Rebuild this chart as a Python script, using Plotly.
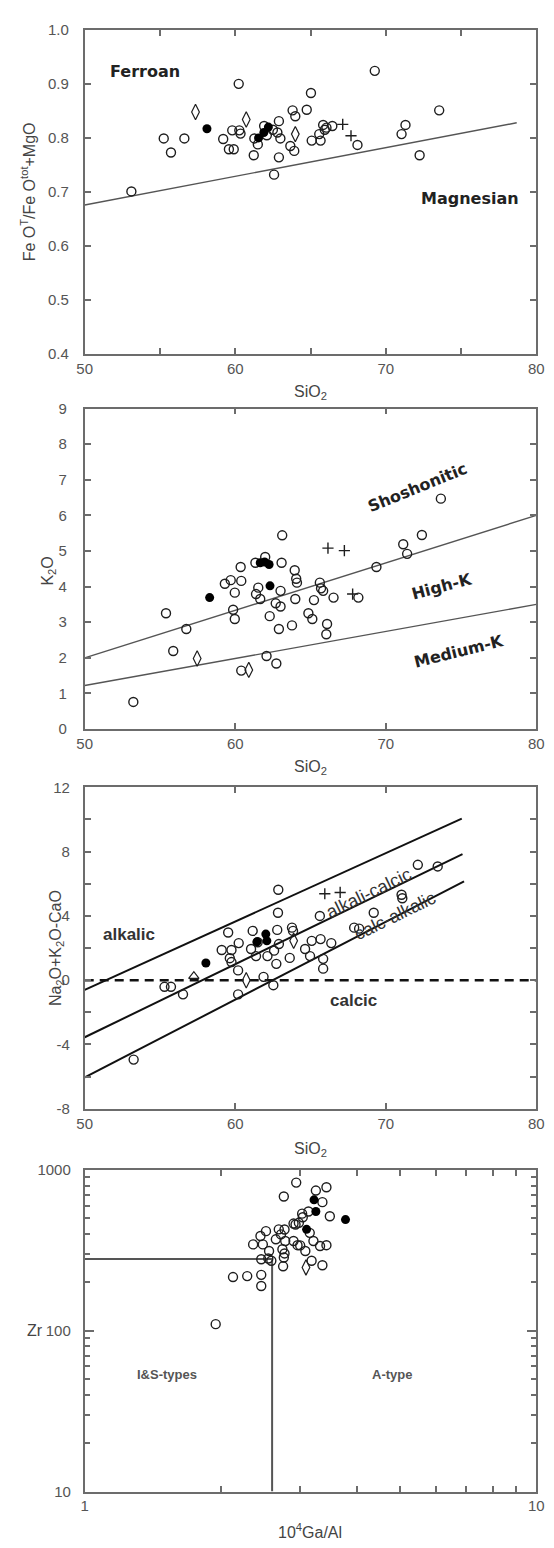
import math
import plotly.graph_objects as go

# ---------------- data ----------------
# Panel 1: FeOT/(FeOT+MgO) vs SiO2
p1_open_x = [53.1, 55.25, 55.73, 56.62, 59.2, 59.58, 59.9, 59.8, 60.23, 60.27, 60.35, 61.23, 61.27, 61.5,
             61.92, 62.1, 62.5, 62.58, 62.9, 62.8, 63.0, 62.9, 63.66, 63.81, 63.99, 63.92, 64.75, 65.03,
             65.08, 65.67, 65.58, 65.84, 65.95, 66.06, 66.45, 68.12, 69.27, 71.05, 71.31, 72.25, 73.55]
p1_open_y = [0.701, 0.799, 0.773, 0.799, 0.798, 0.779, 0.779, 0.814, 0.900, 0.814, 0.808, 0.768, 0.799, 0.788,
             0.822, 0.805, 0.815, 0.732, 0.831, 0.810, 0.799, 0.764, 0.785, 0.851, 0.840, 0.776, 0.852, 0.883,
             0.795, 0.795, 0.807, 0.824, 0.815, 0.819, 0.822, 0.787, 0.924, 0.807, 0.824, 0.768, 0.851]
p1_fill_x = [58.12, 61.55, 61.9, 62.2]
p1_fill_y = [0.817, 0.800, 0.810, 0.820]
p1_dia_x = [57.36, 60.73, 63.99]
p1_dia_y = [0.848, 0.834, 0.807]
p1_plus_x = [67.14, 67.69]
p1_plus_y = [0.825, 0.804]
p1_line_x = [50, 78.7]
p1_line_y = [0.676, 0.828]

# Panel 2: K2O vs SiO2
p2_open_x = [53.23, 55.4, 55.88, 56.75, 59.31, 59.7, 60.4, 60.36, 59.97, 59.86, 59.97, 60.4, 61.34, 61.99,
             61.53, 61.38, 61.66, 62.08, 62.29, 62.73, 62.69, 63.01, 63.01, 63.08, 63.12, 62.9, 63.77, 63.95,
             64.05, 64.1, 63.99, 64.86, 65.12, 65.23, 65.62, 65.84, 65.7, 66.1, 66.05, 66.53, 68.18, 69.38,
             71.16, 71.42, 72.4, 73.66]
p2_open_y = [0.76, 3.25, 2.19, 2.81, 4.08, 4.18, 4.16, 4.55, 3.83, 3.35, 3.09, 1.64, 4.67, 4.83,
             3.97, 3.79, 3.65, 2.05, 3.17, 1.84, 3.53, 3.44, 3.88, 4.67, 5.44, 2.81, 2.91, 4.46,
             4.22, 4.11, 3.65, 3.25, 3.09, 3.62, 4.11, 3.88, 3.95, 2.95, 2.66, 3.69, 3.69, 4.55,
             5.19, 4.92, 5.45, 6.47]
p2_fill_x = [58.3, 61.66, 61.95, 62.25, 62.31]
p2_fill_y = [3.69, 4.67, 4.69, 4.62, 4.02]
p2_dia_x = [57.47, 60.9]
p2_dia_y = [1.98, 1.66]
p2_plus_x = [66.16, 67.25, 67.8]
p2_plus_y = [5.08, 5.01, 3.79]
p2_upper_x = [50, 80]
p2_upper_y = [2.0, 6.0]
p2_lower_x = [50, 80]
p2_lower_y = [1.22, 3.5]

# Panel 3: Na2O+K2O-CaO vs SiO2
p3_open_x = [53.25, 55.3, 55.73, 56.53, 59.53, 59.1, 59.75, 60.23, 59.64, 59.75, 60.19, 60.19, 61.16, 61.05,
             61.38, 61.49, 61.88, 62.14, 62.58, 62.73, 62.79, 62.9, 62.84, 62.86, 62.53, 63.62, 63.77, 63.84,
             64.64, 64.97, 65.08, 65.67, 65.62, 65.84, 65.84, 66.38, 67.9, 68.23, 69.2, 71.05, 71.1, 72.13, 73.45]
p3_open_y = [-4.94, -0.41, -0.41, -0.88, 2.97, 1.88, 1.88, 2.31, 1.37, 1.13, 0.61, -0.88, 3.07, 1.94,
             1.5, 2.36, 0.21, 1.5, 1.84, 1.02, 3.13, 2.25, 4.2, 5.63, -0.31, 1.39, 3.27, 3.07,
             1.94, 1.5, 2.45, 2.56, 4.0, 1.33, 0.72, 2.31, 3.27, 3.21, 4.2, 5.32, 5.1, 7.18, 7.08]
p3_fill_x = [58.05, 61.45, 62.03, 62.1]
p3_fill_y = [1.07, 2.39, 2.87, 2.45]
p3_tri_x = [57.25]
p3_tri_y = [0.25]
p3_dia_x = [60.73, 63.88]
p3_dia_y = [0.0, 2.45]
p3_plus_x = [65.95, 66.97]
p3_plus_y = [5.38, 5.46]
p3_l1_x = [50, 75.05]
p3_l1_y = [-0.6, 10.05]
p3_l2_x = [50, 75.1]
p3_l2_y = [-3.55, 7.85]
p3_l3_x = [50, 75.2]
p3_l3_y = [-6.05, 6.15]
p3_dash_x = [50, 80]
p3_dash_y = [0, 0]

# Panel 4: Zr vs 10^4 Ga/Al
p4_open_x = [1.95, 2.13, 2.29, 2.46, 2.46, 2.94, 2.76, 3.25, 3.43, 3.36, 3.49, 3.03, 3.13, 2.90, 2.98,
             2.52, 2.45, 2.36, 2.48, 2.56, 2.46, 2.55, 2.69, 2.65, 2.72, 2.78, 2.74, 2.76, 2.75,
             2.90, 2.96, 3.08, 3.15, 3.21, 3.32, 3.43, 3.18, 3.36, 2.77, 2.93, 3.04, 2.59, 2.77, 3.0]
p4_open_y = [110, 216, 219, 223, 190, 836, 685, 746, 782, 632, 516, 536, 553, 465, 470,
             417, 389, 345, 345, 314, 279, 282, 428, 371, 398, 362, 322, 286, 252,
             362, 341, 314, 407, 362, 337, 341, 273, 256, 427, 459, 509, 273, 303, 340]
p4_fill_x = [3.22, 3.25, 3.10, 3.78]
p4_fill_y = [653, 553, 428, 492]
p4_dia_x = [3.09]
p4_dia_y = [248]
p4_h_x = [1, 2.6]
p4_h_y = [280, 280]
p4_v_x = [2.6, 2.6]
p4_v_y = [10, 280]

sio2_ticks = [50, 55, 60, 65, 70, 75, 80]
sio2_text = ["50", "", "60", "", "70", "", "80"]

# ---------------- layout helpers ----------------
W, H = 554, 1548
XL, XR = 79, 544


def xdom():
    return [XL / W, XR / W]


def ydom(top, bottom):
    return [1 - bottom / H, 1 - top / H]


def px(x):
    return x / W


def py(y):
    return 1 - y / H


AX = "#6c6c6c"
MK = "#1e1e1e"
tickfont = dict(family="Liberation Sans, Arial, sans-serif", size=15, color="#555")

fig = go.Figure()


def add_markers(xs, ys, xa, ya, kind):
    if kind == "open":
        m = dict(symbol="circle-open", size=9, color=MK, line=dict(width=1.4, color=MK))
    elif kind == "fill":
        m = dict(symbol="circle", size=9, color="#000", line=dict(width=0))
    elif kind == "dia":
        m = dict(symbol="diamond-tall-open", size=11, color=MK, line=dict(width=1.2, color=MK))
    elif kind == "tri":
        m = dict(symbol="triangle-up-open", size=9, color=MK, line=dict(width=1.2, color=MK))
    else:
        m = dict(symbol="cross-thin-open", size=8, color=MK, line=dict(width=1.4, color=MK))
    fig.add_trace(go.Scatter(x=xs, y=ys, mode="markers", marker=m, xaxis=xa, yaxis=ya,
                             showlegend=False, hoverinfo="skip"))


def add_line(xs, ys, xa, ya, color="#555", width=1.4, dash="solid"):
    fig.add_trace(go.Scatter(x=xs, y=ys, mode="lines", line=dict(color=color, width=width, dash=dash),
                             xaxis=xa, yaxis=ya, showlegend=False, hoverinfo="skip"))


# Panel 1
add_line(p1_line_x, p1_line_y, "x", "y")
add_markers(p1_open_x, p1_open_y, "x", "y", "open")
add_markers(p1_dia_x, p1_dia_y, "x", "y", "dia")
add_markers(p1_plus_x, p1_plus_y, "x", "y", "plus")
add_markers(p1_fill_x, p1_fill_y, "x", "y", "fill")

# Panel 2
add_line(p2_upper_x, p2_upper_y, "x2", "y2")
add_line(p2_lower_x, p2_lower_y, "x2", "y2")
add_markers(p2_open_x, p2_open_y, "x2", "y2", "open")
add_markers(p2_dia_x, p2_dia_y, "x2", "y2", "dia")
add_markers(p2_plus_x, p2_plus_y, "x2", "y2", "plus")
add_markers(p2_fill_x, p2_fill_y, "x2", "y2", "fill")

# Panel 3
add_line(p3_l1_x, p3_l1_y, "x3", "y3", color="#111", width=2)
add_line(p3_l2_x, p3_l2_y, "x3", "y3", color="#111", width=2)
add_line(p3_l3_x, p3_l3_y, "x3", "y3", color="#111", width=2)
add_line(p3_dash_x, p3_dash_y, "x3", "y3", color="#111", width=2.6, dash="9px,6px")
add_markers(p3_open_x, p3_open_y, "x3", "y3", "open")
add_markers(p3_tri_x, p3_tri_y, "x3", "y3", "tri")
add_markers(p3_dia_x, p3_dia_y, "x3", "y3", "dia")
add_markers(p3_plus_x, p3_plus_y, "x3", "y3", "plus")
add_markers(p3_fill_x, p3_fill_y, "x3", "y3", "fill")

# Panel 4
add_line(p4_h_x, p4_h_y, "x4", "y4", color="#555", width=2)
add_line(p4_v_x, p4_v_y, "x4", "y4", color="#555", width=2)
add_markers(p4_open_x, p4_open_y, "x4", "y4", "open")
add_markers(p4_dia_x, p4_dia_y, "x4", "y4", "dia")
add_markers(p4_fill_x, p4_fill_y, "x4", "y4", "fill")

base = dict(showline=True, mirror="allticks", linecolor=AX, linewidth=1.8, ticks="inside",
            ticklen=6, tickwidth=1.5, tickcolor=AX, showgrid=False, zeroline=False,
            tickfont=tickfont, fixedrange=True)

P1 = (21, 349)
P2 = (404, 728)
P3 = (787, 1112)
P4 = (1174, 1499)

fig.update_layout(
    width=W, height=H, margin=dict(l=0, r=0, t=0, b=0),
    paper_bgcolor="white", plot_bgcolor="white", showlegend=False,
    xaxis=dict(base, domain=xdom(), range=[50, 80], tickmode="array", tickvals=sio2_ticks,
               ticktext=sio2_text, anchor="y", ticklabelstandoff=0),
    yaxis=dict(base, domain=ydom(*P1), range=[0.4, 1.0], tickmode="array",
               tickvals=[0.4, 0.5, 0.6, 0.7, 0.8, 0.9, 1.0],
               ticktext=["0.4", "0.5", "0.6", "0.7", "0.8", "0.9", "1.0"], anchor="x",
               ticklabelstandoff=11),
    xaxis2=dict(base, domain=xdom(), range=[50, 80], tickmode="array", tickvals=[50, 60, 70, 80],
                ticktext=["50", "60", "70", "80"], anchor="y2", ticklabelstandoff=0),
    yaxis2=dict(base, domain=ydom(*P2), range=[0, 9], tickmode="array", tickvals=list(range(0, 10)),
                ticktext=[str(v) for v in range(0, 10)], anchor="x2", ticklabelstandoff=13),
    xaxis3=dict(base, domain=xdom(), range=[50, 80], tickmode="array", tickvals=[50, 60, 70, 80],
                ticktext=["50", "60", "70", "80"], anchor="y3", ticklabelstandoff=0),
    yaxis3=dict(base, domain=ydom(*P3), range=[-8, 12], tickmode="array",
                tickvals=[-8, -6, -4, -2, 0, 2, 4, 6, 8, 10, 12],
                ticktext=["-8", "", "-4", "", "0", "", "4", "", "8", "", "12"], anchor="x3",
                ticklabelstandoff=10),
    xaxis4=dict(base, domain=xdom(), type="log", range=[0, 1], tickmode="array",
                tickvals=[1, 2, 3, 4, 5, 6, 7, 8, 9, 10],
                ticktext=["1", "", "", "", "", "", "", "", "", "10"], anchor="y4", ticklabelstandoff=0),
    yaxis4=dict(base, domain=ydom(*P4), type="log", range=[1, 3], tickmode="array",
                tickvals=[10, 100, 1000], ticktext=["10", "100", "1000"], ticklen=9, anchor="x4",
                ticklabelstandoff=9,
                minor=dict(tickmode="array",
                           tickvals=[20, 30, 40, 50, 60, 70, 80, 90, 200, 300, 400, 500, 600, 700, 800, 900],
                           ticks="inside", ticklen=5, tickcolor=AX, tickwidth=1.5, showgrid=False)),
)

ann = []
tfont = dict(family="Liberation Sans, Arial, sans-serif", size=16, color="#444")


def title(text, x, y, angle=0):
    ann.append(dict(text=text, x=px(x), y=py(y), xref="paper", yref="paper", showarrow=False,
                    textangle=angle, font=tfont, xanchor="center", yanchor="middle"))


title("SiO<sub>2</sub>", 311, 388)
title("SiO<sub>2</sub>", 311, 767)
title("SiO<sub>2</sub>", 311, 1153)
title("10<sup>4</sup>Ga/Al", 311, 1539)
title("Fe O<sup>T</sup>/Fe O<sup>tot</sup>+MgO", 21, 185, -90)
title("K<sub>2</sub>O", 42, 568, -90)
title("Na<sub>2</sub>O+K<sub>2</sub>O-CaO", 50, 950, -90)
title("Zr", 28, 1336)

bold = dict(family="DejaVu Sans, Verdana, sans-serif", size=16, color="#222")
lab3 = dict(family="Liberation Sans, Arial, sans-serif", size=17, color="#333")
lab3r = dict(family="Liberation Sans, Arial, sans-serif", size=18, color="#333")
lab4 = dict(family="Liberation Sans, Arial, sans-serif", size=13, color="#555")


def label(text, x, y, xref, yref, font, angle=0):
    ann.append(dict(text=text, x=x, y=y, xref=xref, yref=yref, showarrow=False, textangle=angle,
                    font=font, xanchor="center", yanchor="middle"))


label("<b>Ferroan</b>", 54.0, 0.923, "x", "y", bold)
label("<b>Magnesian</b>", 75.6, 0.687, "x", "y", bold)
label("<b>Shoshonitic</b>", 72.1, 6.77, "x2", "y2", bold, -22)
label("<b>High-K</b>", 73.7, 4.0, "x2", "y2", bold, -15)
label("<b>Medium-K</b>", 74.8, 2.19, "x2", "y2", bold, -14)
label("<b>alkalic</b>", 52.97, 2.87, "x3", "y3", lab3)
label("<b>calcic</b>", 67.85, -1.27, "x3", "y3", lab3)
label("alkali-calcic", 68.9, 5.4, "x3", "y3", lab3r, -26)
label("calc-alkalic", 70.6, 4.0, "x3", "y3", lab3r, -26)
label("<b>I&amp;S-types</b>", math.log10(1.52), math.log10(53.5), "x4", "y4", lab4)
label("<b>A-type</b>", math.log10(4.8), math.log10(53.5), "x4", "y4", lab4)

fig.update_layout(annotations=ann)
fig.write_html("out.html", config={"displayModeBar": False},
               post_script="document.body.style.margin='0';document.body.style.padding='0';")
